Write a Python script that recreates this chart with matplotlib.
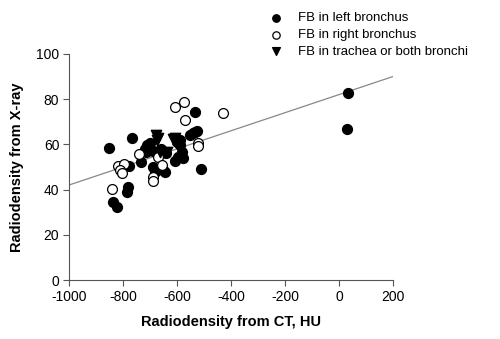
import numpy as np
import matplotlib
matplotlib.use("Agg")
import matplotlib.pyplot as plt

plt.rcParams['font.family'] = ['Liberation Sans', 'DejaVu Sans']
plt.rcParams['axes.unicode_minus'] = False

# FB in left bronchus (filled circles): CT HU, X-ray radiodensity
left_x = [-852, -766, -735, -778, -780, -786, -836, -823,
          -710, -715, -700, -688, -681, -644, -651,
          -720, -690, -660, -640,
          -607, -595, -583, -589, -601, -579, -589,
          -552, -540, -533, -525, -533, -511,
          32, 28]
left_y = [58.5, 63.0, 52.0, 50.5, 41.3, 39.1, 34.6, 32.4,
          59.7, 56.8, 60.5, 50.1, 47.9, 47.9, 48.7,
          58.0, 57.0, 58.0, 56.0,
          52.8, 54.6, 56.8, 59.7, 61.2, 53.8, 62.0,
          64.2, 64.8, 65.6, 66.1, 74.5, 49.1,
          82.9, 66.7]

# FB in right bronchus (open circles)
right_x = [-840, -817, -796, -811, -805, -741, -669, -657, -690, -690,
           -570, -607, -573, -521, -521, -430]
right_y = [40.3, 50.6, 51.2, 48.7, 47.2, 55.6, 54.6, 50.9, 45.4, 44.0,
           70.8, 76.7, 78.9, 60.8, 59.3, 74.0]

# FB in trachea or both bronchi (triangles)
both_x = [-679, -675, -669, -663, -638, -614, -607]
both_y = [64.2, 61.9, 62.7, 56.8, 56.8, 62.3, 62.7]

# regression line end points
fit_x = [-1000, 200]
fit_y = [42, 90]

fig = plt.figure(figsize=(5, 3.39), dpi=100)
ax = fig.add_axes([0.138, 0.174, 0.648, 0.667])

ax.plot(fit_x, fit_y, color='#888888', lw=0.9, zorder=1)
ax.scatter(left_x, left_y, s=50, c='black', edgecolors='black', zorder=3,
           label='FB in left bronchus')
ax.scatter(right_x, right_y, s=50, facecolors='white', edgecolors='black',
           linewidths=0.9, zorder=3, label='FB in right bronchus')
ax.scatter(both_x, both_y, s=55, marker='v', c='black', zorder=4,
           label='FB in trachea or both bronchi')

ax.set_xlim(-1000, 200)
ax.set_ylim(0, 100)
ax.set_xticks(range(-1000, 201, 200))
ax.set_yticks(range(0, 101, 20))
for s in ['top', 'right']:
    ax.spines[s].set_visible(False)
for s in ['left', 'bottom']:
    ax.spines[s].set_color('#555555')
    ax.spines[s].set_linewidth(0.8)
ax.tick_params(direction='out', length=4, width=0.8, color='#555555',
               labelsize=10, pad=3)

ax.set_xlabel('Radiodensity from CT, HU', fontsize=10.5, fontweight='bold', labelpad=8)
ax.set_ylabel('Radiodensity from X-ray', fontsize=10.5, fontweight='bold', labelpad=9)

fig.legend(loc='upper left', bbox_to_anchor=(0.515, 1.0), frameon=False,
           fontsize=9.5, markerscale=0.75, handletextpad=1.2, labelspacing=0.35,
           handlelength=1.0)

fig.savefig('out.png', dpi=100)
